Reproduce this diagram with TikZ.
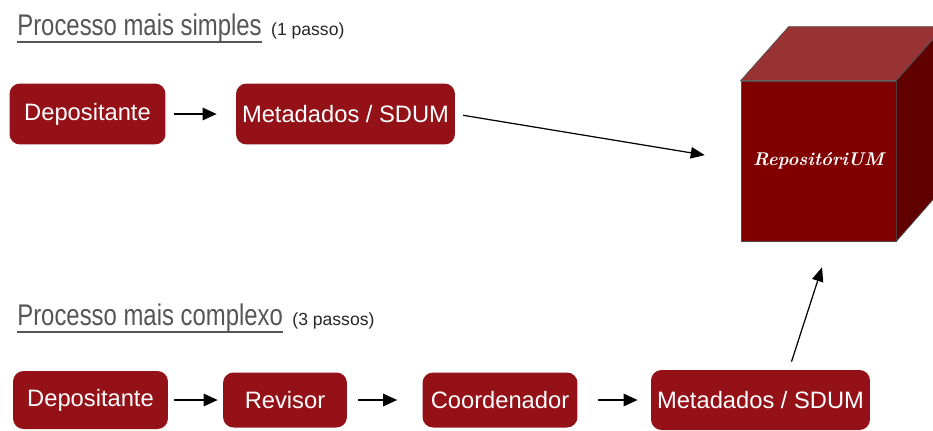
\documentclass[tikz,border=0pt]{standalone}
\usepackage{fontspec}
\newfontfamily\boxfont{Liberation Sans}
\newfontfamily\narrowfont[FakeStretch=0.8]{Liberation Sans}
\usetikzlibrary{arrows.meta,positioning,calc}
\definecolor{boxred}{RGB}{148,17,24}
\definecolor{cubefront}{RGB}{128,0,0}
\definecolor{cubetop}{RGB}{153,51,51}
\definecolor{cubeside}{RGB}{96,0,0}
\definecolor{titlegray}{RGB}{85,85,85}
\begin{document}
\begin{tikzpicture}[
        x=0.02cm, y=-0.02cm,
        stepbox/.style={
            fill=boxred,
            rounded corners=6pt,
            text=white,
            align=center,
            inner sep=0pt,
            font=\boxfont\fontsize{13.5}{16}\selectfont
        },
        heading/.style={
            inner sep=0pt,
            text=titlegray,
            font=\narrowfont\fontsize{17}{20}\selectfont
        },
        note/.style={
            inner sep=0pt,
            text=black!85,
            font=\boxfont\fontsize{10}{12}\selectfont
        },
        flow/.style={-{Triangle[length=8pt,width=7pt]}, line width=1.1pt},
        link/.style={-{Triangle[length=8pt,width=6.5pt]}, line width=0.7pt}
    ]
        \useasboundingbox (0,0) rectangle (933,430);
        \clip (0,0) rectangle (933,430);

        % headings
        \node[heading, anchor=base west] (simple) at (17,35) {Processo mais simples};
        \node[note, base right=5pt of simple] (simplenote) {(1 passo)};
        \draw[titlegray, line width=0.8pt] ([yshift=-4pt]simple.base west) -- ([yshift=-4pt]simple.base east);

        \node[heading, anchor=base west] (complex) at (17,325) {Processo mais complexo};
        \node[note, base right=5pt of complex] (complexnote) {(3 passos)};
        \draw[titlegray, line width=0.8pt] ([yshift=-4pt]complex.base west) -- ([yshift=-4pt]complex.base east);

        % simple process
        \node[stepbox, minimum width=3.12cm, minimum height=1.22cm] (dep1) at (87.5,114) {Depositante};
        \node[stepbox, minimum width=4.38cm, minimum height=1.22cm] (meta1) at (345.5,114) {Metadados / SDUM};

        % complex process
        \node[stepbox, minimum width=3.1cm, minimum height=1.16cm] (dep2) at (90.5,400) {Depositante};
        \node[stepbox, minimum width=2.48cm, minimum height=1.1cm] (rev) at (285,400) {Revisor};
        \node[stepbox, minimum width=3.1cm, minimum height=1.1cm] (coord) at (500,400) {Coordenador};
        \node[stepbox, minimum width=4.38cm, minimum height=1.2cm] (meta2) at (760.5,400) {Metadados / SDUM};

        % repository cube
        \node[draw=black!70, fill=cubefront, minimum width=3.1cm, minimum height=3.2cm, inner sep=0pt,
              text=white, font=\itshape\bfseries\fontsize{10.5}{12}\selectfont] (cube) at (818.5,161) {RepositóriUM};
        \filldraw[fill=cubetop, draw=black!70] (cube.north west) -- ++(48,-54) -- ++(155,0) -- (cube.north east) -- cycle;
        \filldraw[fill=cubeside, draw=black!70] (cube.north east) -- ++(48,-54) -- ++(0,160) -- (cube.south east) -- cycle;

        \draw[flow, shorten <=4.5pt, shorten >=10.8pt] (dep1) -- (meta1);
        \draw[link, shorten <=4.5pt, shorten >=20.7pt] (meta1.east) -- (cube.west);

        \draw[flow, shorten <=3.4pt, shorten >=2.8pt] (dep2) -- (rev);
        \draw[flow, shorten <=6.2pt, shorten >=14.2pt] (rev) -- (coord);
        \draw[flow, shorten <=11.3pt, shorten >=7.4pt] (coord) -- (meta2);
        \draw[link] ($(meta2.north)+(31,-8)$) -- ($(cube.south)+(3.5,26)$);
    \end{tikzpicture}
\end{document}
